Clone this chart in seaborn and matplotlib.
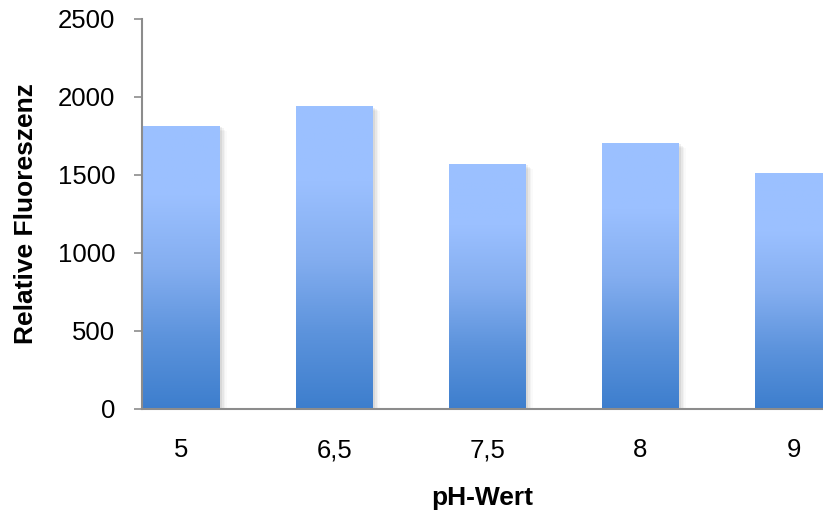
import numpy as np
import pandas as pd
import matplotlib
matplotlib.use("Agg")
import matplotlib.pyplot as plt
import seaborn as sns
from matplotlib.colors import LinearSegmentedColormap
from matplotlib.patches import Rectangle

ph_labels = ["5", "6,5", "7,5", "8", "9"]
fluorescence = [1815, 1940, 1570, 1705, 1510]
y_ticks = [0, 500, 1000, 1500, 2000, 2500]

df = pd.DataFrame({"pH": ph_labels, "F": fluorescence})

sns.set_theme(style="white")
plt.rcParams["font.family"] = ["Liberation Sans", "DejaVu Sans"]

fig = plt.figure(figsize=(8.23, 5.15), dpi=100)
ax = fig.add_axes([142 / 823, 1 - 409 / 515, 1 - 142 / 823, (409 - 19) / 515])

sns.barplot(data=df, x="pH", y="F", ax=ax, width=0.503, color="#6f9fe6",
            linewidth=0, saturation=1, errorbar=None, zorder=3)

grad = LinearSegmentedColormap.from_list(
    "bar_grad", ["#3d7ecd", "#5c93dc", "#84aef0", "#9bc0ff", "#9bc1ff"])
gimg = np.linspace(0, 1, 256).reshape(-1, 1)

for p in list(ax.patches):
    x0, y0 = p.get_x(), p.get_y()
    w, h = p.get_width(), p.get_height()
    # soft drop shadow to the right of each bar
    for k, a in enumerate([0.06, 0.045, 0.03, 0.02]):
        dx = 0.012 * (k + 1)
        ax.add_patch(Rectangle((x0 + dx, y0), w, h - 8 * (k + 1),
                               facecolor="#000000", alpha=a, linewidth=0,
                               zorder=2))
    p.set_facecolor("none")
    im = ax.imshow(gimg, cmap=grad, aspect="auto", origin="lower",
                   extent=[x0, x0 + w, y0, y0 + h], zorder=3)
    im.set_clip_path(p)

ax.set_xlim(-0.258, 4.193)
ax.set_ylim(0, 2500)
ax.set_yticks(y_ticks)
ax.set_yticklabels([str(v) for v in y_ticks])

for side in ["top", "right"]:
    ax.spines[side].set_visible(False)
for side in ["left", "bottom"]:
    ax.spines[side].set_color("#8c8c8c")
    ax.spines[side].set_linewidth(1.5)
    ax.spines[side].set_zorder(5)

ax.tick_params(axis="y", which="both", left=True, length=5.8, width=1.2,
               color="#8c8c8c", labelsize=18.5, pad=13.5, labelcolor="black")
ax.tick_params(axis="x", which="both", bottom=False, length=0,
               labelsize=18.5, pad=21, labelcolor="black")

ax.set_xlabel("pH-Wert", fontsize=19, fontweight="bold", labelpad=17,
              color="black")
ax.set_ylabel("Relative Fluoreszenz", fontsize=19, fontweight="bold",
              labelpad=14, color="black")

fig.savefig("out.png", dpi=100)
